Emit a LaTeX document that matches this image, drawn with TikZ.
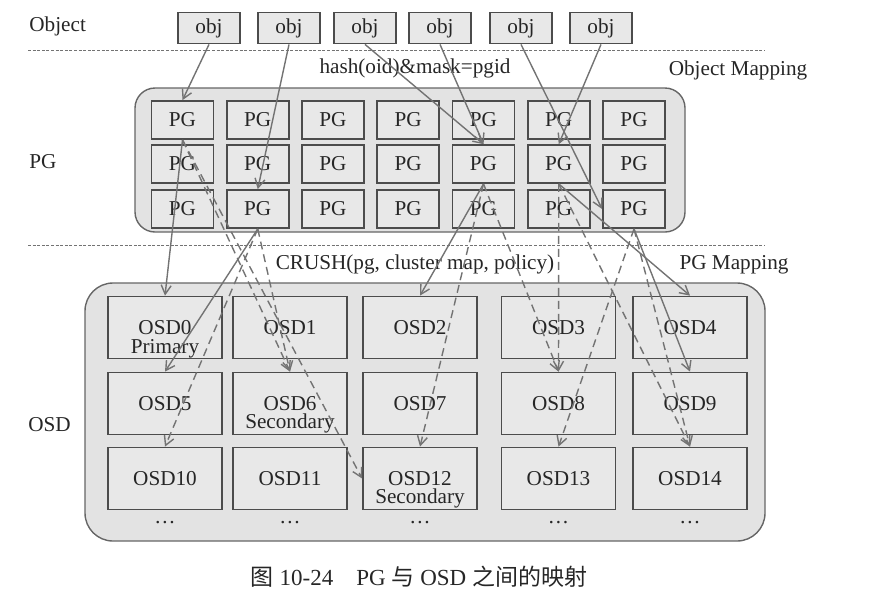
\documentclass[tikz,border=0pt]{standalone}
\usepackage{fontspec}
\setmainfont{Liberation Serif}
\newfontfamily\cjk{Noto Sans CJK SC}
\usetikzlibrary{arrows.meta}

\begin{document}
\begin{tikzpicture}[x=0.5pt,y=-0.5pt,
    font=\fontsize{10.6}{12}\selectfont,text=black!85,
    >={Straight Barb[length=4.5pt,width=5pt]},
    box/.style={draw=black!70,line width=0.9pt,fill=black!9,inner sep=0pt},
    obj/.style={box,minimum width=31pt,minimum height=15.5pt},
    pg/.style={box,minimum width=31pt,minimum height=19pt},
    osd/.style={box,minimum width=57pt,minimum height=31pt},
    pool/.style={draw=black!60,line width=0.7pt,fill=black!11,rounded corners=#1},
    divider/.style={black!55,line width=0.5pt,dash pattern=on 1.5pt off 0.8pt},
    link/.style={->,black!55,line width=0.7pt},
    replica/.style={dash pattern=on 4pt off 2.5pt}]
  \useasboundingbox (0,0) rectangle (881,606);
  \draw[divider] (28,50) -- (765,50);
  \draw[divider] (28,245) -- (765,245);
  \draw[pool=10pt] (135,88) rectangle (685,232);
  \draw[pool=14pt] (85,283) rectangle (765,541);
  \draw
    (29,26) node[anchor=west,inner xsep=0pt] (objlabel){Object}
    (29,162) node[anchor=west,inner xsep=0pt] (pglabel){PG}
    (28,425) node[anchor=west,inner xsep=0pt] (osdlabel){OSD}
    (415,68) node (hashfn){hash(oid)\&mask=pgid}
    (738,70) node (objmap){Object Mapping}
    (415,264) node (crushfn){CRUSH(pg, cluster map, policy)}
    (734,265) node (pgmap){PG Mapping}
    (419,577) node[font=\fontsize{11.5}{14}\selectfont] (caption){{\cjk 图} 10-24\quad PG {\cjk 与} OSD {\cjk 之间的映射}};
  \draw
    (209,28) node[obj] (obj1){obj}
    (289,28) node[obj] (obj2){obj}
    (365,28) node[obj] (obj3){obj}
    (440,28) node[obj] (obj4){obj}
    (521,28) node[obj] (obj5){obj}
    (601,28) node[obj] (obj6){obj};
  \draw
    (182.5,120) node[pg] (pg11){PG}
    (257.75,120) node[pg] (pg12){PG}
    (333,120) node[pg] (pg13){PG}
    (408.25,120) node[pg] (pg14){PG}
    (483.5,120) node[pg] (pg15){PG}
    (558.75,120) node[pg] (pg16){PG}
    (634,120) node[pg] (pg17){PG}
    (182.5,164) node[pg] (pg21){PG}
    (257.75,164) node[pg] (pg22){PG}
    (333,164) node[pg] (pg23){PG}
    (408.25,164) node[pg] (pg24){PG}
    (483.5,164) node[pg] (pg25){PG}
    (558.75,164) node[pg] (pg26){PG}
    (634,164) node[pg] (pg27){PG}
    (182.5,209) node[pg] (pg31){PG}
    (257.75,209) node[pg] (pg32){PG}
    (333,209) node[pg] (pg33){PG}
    (408.25,209) node[pg] (pg34){PG}
    (483.5,209) node[pg] (pg35){PG}
    (558.75,209) node[pg] (pg36){PG}
    (634,209) node[pg] (pg37){PG};
  \draw
    (165,327.5) node[osd] (osd0){OSD0}
    (290,327.5) node[osd] (osd1){OSD1}
    (420,327.5) node[osd] (osd2){OSD2}
    (558.5,327.5) node[osd] (osd3){OSD3}
    (690,327.5) node[osd] (osd4){OSD4}
    (165,403.5) node[osd] (osd5){OSD5}
    (290,403.5) node[osd] (osd6){OSD6}
    (420,403.5) node[osd] (osd7){OSD7}
    (558.5,403.5) node[osd] (osd8){OSD8}
    (690,403.5) node[osd] (osd9){OSD9}
    (165,478.5) node[osd] (osd10){OSD10}
    (290,478.5) node[osd] (osd11){OSD11}
    (420,478.5) node[osd] (osd12){OSD12}
    (558.5,478.5) node[osd] (osd13){OSD13}
    (690,478.5) node[osd] (osd14){OSD14};
  \draw
    ([yshift=-10.8pt]osd0.center) node[inner ysep=0pt] (primary0){Primary}
    ([yshift=-10pt]osd6.center) node[inner ysep=0pt] (secondary6){Secondary}
    ([yshift=-10pt]osd12.center) node[inner ysep=0pt] (secondary12){Secondary}
    (165,523) node (more0){\dots}
    (290,523) node (more1){\dots}
    (420,523) node (more2){\dots}
    (558.5,523) node (more3){\dots}
    (690,523) node (more4){\dots};
  \begin{scope}[link]
    \draw (obj1.south) to (pg11.north);
    \draw (obj2.south) to (pg32.north);
    \draw (obj3.south) to (pg25.north);
    \draw (obj4.south) to (pg25.north);
    \draw (obj5.south) to (pg37.west);
    \draw (obj6.south) to (pg26.north);
    \draw (pg11.south) to (osd0.north);
    \draw[replica] (pg11.south) to (osd6.north);
    \draw[replica] (pg11.south) to (osd12.west);
    \draw (pg32.south) to (osd5.north);
    \draw[replica] (pg32.south) to (osd10.north);
    \draw[replica] (pg32.south) to (osd6.north);
    \draw (pg25.south) to (osd2.north);
    \draw[replica] (pg25.south) to (osd8.north);
    \draw[replica] (pg25.south) to (osd12.north);
    \draw (pg26.south) to (osd4.north);
    \draw[replica] (pg26.south) to (osd8.north);
    \draw[replica] (pg26.south) to (osd14.north);
    \draw (pg37.south) to (osd9.north);
    \draw[replica] (pg37.south) to (osd13.north);
    \draw[replica] (pg37.south) to (osd14.north);
  \end{scope}
\end{tikzpicture}
\end{document}
